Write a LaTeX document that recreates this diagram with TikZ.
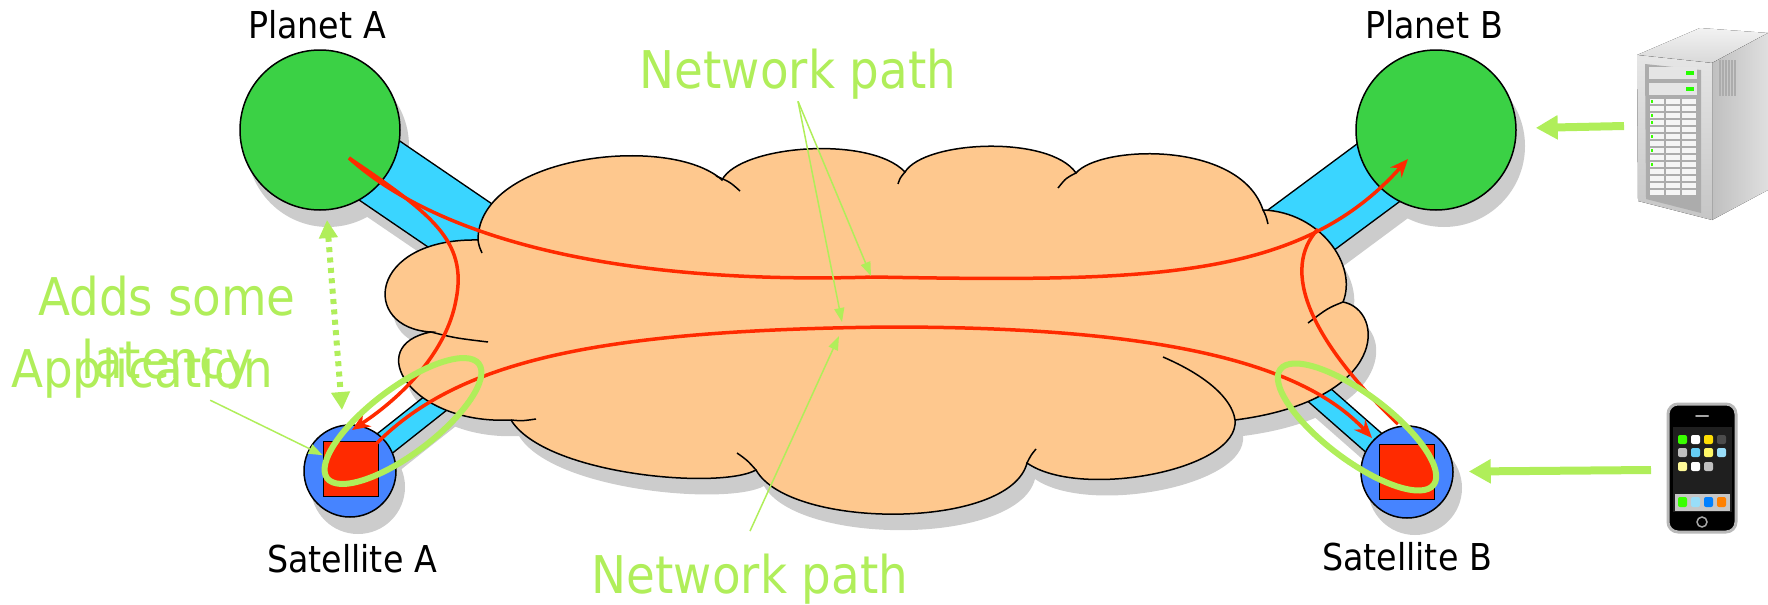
\documentclass[tikz,border=0pt]{standalone}
\usepackage{fontspec}
\setmainfont{DejaVu Sans Condensed}
\usepackage{xcolor}
\usepackage{tikz}
\usetikzlibrary{arrows.meta}
\definecolor{planetgreen}{RGB}{59,209,69}
\definecolor{linkblue}{RGB}{58,213,255}
\definecolor{satblue}{RGB}{70,132,255}
\definecolor{routered}{RGB}{255,42,0}
\definecolor{cloudfill}{RGB}{254,200,142}
\definecolor{dropgray}{RGB}{204,204,204}
\definecolor{hint}{RGB}{176,238,90}
\pgfdeclarelayer{shadow}
\pgfdeclarelayer{links}
\pgfsetlayers{shadow,links,main}
\newcommand\cloudpath{(478,240) .. controls (478,155) and (670,133) .. (722,180)
  .. controls (740,145) and (870,135) .. (905,172)
  .. controls (925,140) and (1050,135) .. (1076,173)
  .. controls (1100,145) and (1240,140) .. (1263,210)
  .. controls (1320,212) and (1358,265) .. (1343,302)
  .. controls (1385,310) and (1390,400) .. (1235,420)
  .. controls (1240,470) and (1080,500) .. (1027,463)
  .. controls (1010,530) and (790,530) .. (756,470)
  .. controls (720,490) and (545,475) .. (511,420)
  .. controls (410,425) and (362,345) .. (431,332)
  .. controls (360,328) and (368,238) .. (478,240) -- cycle}

\begin{document}
\begin{tikzpicture}[x=0.5pt,y=-0.5pt,
  planet/.style={circle,draw,line width=0.75pt,fill=planetgreen,minimum size=80pt,inner sep=0pt},
  sat/.style={circle,draw,line width=0.75pt,fill=satblue,minimum size=46pt,inner sep=0pt},
  appbox/.style={draw,line width=0.75pt,fill=routered,minimum size=27.5pt,inner sep=0pt},
  lbl/.style={font=\fontsize{18.5}{22}\selectfont,inner sep=1pt},
  note/.style={text=hint,font=\fontsize{26}{31.5}\selectfont,inner sep=1pt},
  route/.style={draw=routered,line width=1.75pt,-{Stealth[length=9pt,width=7.5pt]}},
  pointer/.style={draw=hint,line width=0.75pt,-{Triangle[length=7pt,width=5pt]}},
  push/.style={draw=hint,line width=4pt,-{Triangle[length=11pt,width=11.5pt]}},
  ring/.style={draw=hint,line width=3pt}]
  \useasboundingbox (0,0) rectangle (1768,605);

  \draw[line width=0.75pt,fill=cloudfill] \cloudpath;
  \draw[line width=0.75pt] (716,176) .. controls (730,182) .. (740,191)
    (905,172) .. controls (900,178) .. (898,184)
    (1076,173) .. controls (1066,178) .. (1058,188)
    (1263,210) .. controls (1266,216) .. (1268,224)
    (1343,302) .. controls (1328,308) .. (1308,323)
    (1163,357) .. controls (1205,375) and (1232,398) .. (1235,420)
    (1027,463) .. controls (1031,455) .. (1036,449)
    (756,470) .. controls (747,460) .. (737,453)
    (511,420) .. controls (522,421) .. (536,419)
    (431,332) .. controls (455,338) .. (488,342)
    (478,240) .. controls (479,246) .. (482,253);

  \node[planet] (pa) at (320,130) {};
  \node[planet] (pb) at (1436,130) {};
  \node[sat] (sa) at (350,471) {};
  \node[sat] (sb) at (1407,472) {};
  \node[appbox] (appA) at (351,469) {};
  \node[appbox] (appB) at (1407,472) {};
  \coordinate (la) at (540,280);
  \coordinate (lb) at (1239,276);
  \coordinate (lc) at (465,380);
  \coordinate (ld) at (1300,378);

  \begin{pgfonlayer}{links}
    \foreach \a/\b/\w in {pa/la/35,pb/lb/35,sa/lc/11.5,sb/ld/11.5}
      \draw[line width=0.75pt,double=linkblue,double distance=\w pt] (\a.center) -- (\b);
  \end{pgfonlayer}
  \begin{pgfonlayer}{shadow}
    \begin{scope}[transform canvas={shift={(4pt,-8pt)}}]
      \fill[dropgray] \cloudpath;
      \foreach \a/\b/\w in {pa/la/36.5,pb/lb/36.5,sa/lc/13,sb/ld/13}
        \draw[dropgray,line width=\w pt] (\a.center) -- (\b);
      \foreach \a/\r in {pa/81,pb/81,sa/47,sb/47}
        \fill[dropgray] (\a.center) circle (\r);
    \end{scope}
  \end{pgfonlayer}

  \coordinate (ra) at (349,158);
  \coordinate (rb) at (1408,159);
  \coordinate (rc) at (352,430);
  \coordinate (rd) at (377,443);
  \coordinate (re) at (1372,438);
  \coordinate (rf) at (1398,424);
  \coordinate (rg) at (1318,229);
  \draw[route] (ra) .. controls (440,240) and (620,285) .. (874,277)
    .. controls (1150,282) and (1300,280) .. (rb);
  \draw[route] (ra) .. controls (430,213) and (468,240) .. (456,300)
    .. controls (447,350) and (405,395) .. (rc);
  \draw[route] (rd) .. controls (460,360) and (600,330) .. (890,327)
    .. controls (1150,327) and (1300,360) .. (re);
  \draw[route,-] (rf) .. controls (1310,340) and (1280,270) .. (rg);

  \draw[ring,rotate around={37:(403,421)}] (403,421) ellipse [x radius=95,y radius=33];
  \draw[ring,rotate around={-37:(1357,427)}] (1357,427) ellipse [x radius=96,y radius=33];

  \coordinate (dl1) at (327,220);
  \coordinate (dl2) at (342,410);
  \draw[draw=hint,line width=3pt,dash pattern=on 2.5pt off 2.7pt,
    {Triangle[length=9pt,width=9pt]}-{Triangle[length=9pt,width=9pt]}] (dl1) -- (dl2);

  \node[lbl,anchor=base] (labPA) at (317,39) {Planet A};
  \node[lbl,anchor=base] (labPB) at (1434,39) {Planet B};
  \node[lbl,anchor=base] (labSA) at (352,572) {Satellite A};
  \node[lbl,anchor=base] (labSB) at (1407,570) {Satellite B};
  \node[note,anchor=base] (netTop) at (798,88) {Network path};
  \node[note,anchor=base] (netBot) at (750,593) {Network path};
  \node[note,anchor=base,align=center] (lat) at (167,378) {Adds some\\latency};
  \node[note,anchor=base] (applbl) at (142,387) {Application};

  \coordinate (n1) at (871,276);
  \coordinate (n2) at (842,322);
  \coordinate (n3) at (839,336);
  \draw[pointer] (netTop.south) -- (n1);
  \draw[pointer] (netTop.south) -- (n2);
  \draw[pointer] ([yshift=10pt]netBot.north) -- (n3);
  \draw[pointer] (applbl.-22) -- (appA);

  \fill[top color=gray!10,bottom color=gray!30] (1700,28) -- (1768,33) -- (1712,63) -- (1637,55) -- cycle;
  \fill[left color=gray!50,right color=gray!25] (1712,63) -- (1768,33) -- (1768,190) -- (1712,220) -- cycle;
  \fill[top color=gray!20,bottom color=gray!45] (1637,55) -- (1712,63) -- (1712,220) -- (1638,201) -- cycle;
  \fill[gray!65] (1645,64) -- (1701,70) -- (1701,213) -- (1646,199) -- cycle;
  \foreach \y in {67,83} {
    \fill[gray!20] (1649,\y) rectangle +(48,12);
    \fill[green!80!lime] (1686,\y+4) rectangle +(8,4);
  }
  \foreach \c in {1650,1666,1682} \foreach \r in {0,...,13}
    \fill[gray!8] (\c,99+7*\r) rectangle +(14,5);
  \foreach \r in {0,2,3,5,7,9}
    \fill[green!70!lime] (1651,100+7*\r) rectangle +(2,3);
  \foreach \v in {1720,1723,...,1735}
    \draw[gray!65,line width=0.6pt] (\v,60) -- (\v,96);

  \draw[gray!55,line width=1.5pt,fill=black,rounded corners=5pt] (1668,404) rectangle (1736,532);
  \draw[gray!70,line width=1pt,line cap=round] (1696,416) -- (1708,416);
  \fill[black!88] (1673,427) rectangle (1732,512);
  \foreach \c/\r/\col in {1678/435/green!70!lime,1691/435/white,1704/435/yellow!80!orange,1717/435/gray!60!black,
    1678/448/gray!50,1691/448/cyan!60,1704/448/yellow!60,1717/448/cyan!40,
    1678/462/yellow!40,1691/462/white,1704/462/gray!50}
    \fill[\col,rounded corners=1pt] (\c,\r) rectangle +(9,9);
  \fill[gray!45] (1675,494) rectangle (1730,511);
  \foreach \c/\col in {1678/green!70!lime,1691/cyan!40,1704/blue!50!cyan,1717/orange}
    \fill[\col,rounded corners=1pt] (\c,497) rectangle +(9,10);
  \draw[gray!70,line width=0.75pt] (1702,522) circle (5);

  \coordinate (srv) at (1624,126);
  \coordinate (fon) at (1651,470);
  \draw[push,shorten >=9.5pt] (srv) -- (pb);
  \draw[push,shorten >=7.5pt] (fon) -- (sb);
\end{tikzpicture}
\end{document}
